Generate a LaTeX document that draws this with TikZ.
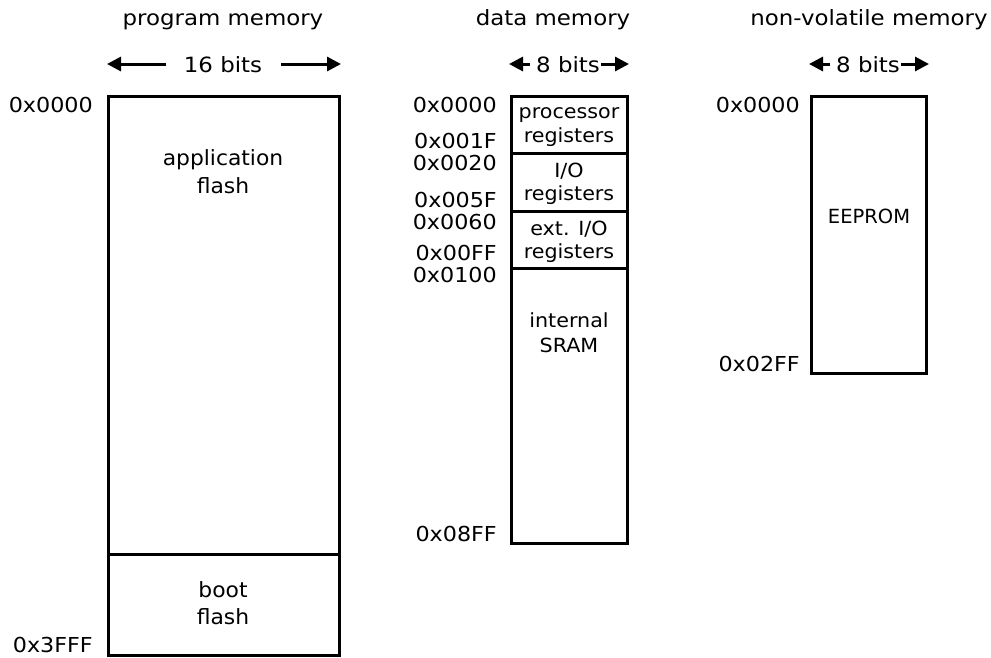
\documentclass[tikz,border=0pt]{standalone}
\usepackage{fontspec}
\setmainfont{DejaVu Sans}
\usetikzlibrary{arrows.meta}
\begin{document}
\begin{tikzpicture}[x=1pt,y=-1pt,
  ttl/.style={anchor=base, inner sep=0pt, xscale=1.09, font=\fontsize{21}{25}\selectfont},
  lbl/.style={anchor=base, inner sep=0pt, xscale=1.04, font=\fontsize{21}{25}\selectfont},
  addr/.style={anchor=base east, inner sep=0pt, xscale=1.08, font=\fontsize{20.6}{25}\selectfont},
  inl/.style={anchor=base, inner sep=0pt, xscale=1.06, font=\fontsize{19.5}{24}\selectfont},
  eepl/.style={anchor=base, inner sep=0pt, font=\fontsize{19.5}{24}\selectfont},
  mem/.style={line width=3pt},
  wid/.style={line width=3pt, -{Triangle[length=14pt,width=14pt]}}]
\useasboundingbox (0,0) rectangle (991,657);

% ---------- program memory ----------
\node[ttl] (ptitle) at (223,25) {program memory};
\node[ttl] (pbits) at (223,72) {16 bits};
\coordinate (pl1) at (166,64); \coordinate (pl2) at (107,64);
\coordinate (pr1) at (281,64); \coordinate (pr2) at (341,64);
\draw[wid] (pl1) -- (pl2);
\draw[wid] (pr1) -- (pr2);
\draw[mem] (108,96) rectangle (339,655);
\draw[mem] (108,554) -- (339,554);
\node[addr] (pa0) at (93,112) {0x0000};
\node[addr] (pa1) at (93,652) {0x3FFF};
\node[lbl] (app1) at (223,165) {application};
\node[lbl] (app2) at (223,193) {flash};
\node[lbl] (boot1) at (223,597) {boot};
\node[lbl] (boot2) at (223,624) {flash};

% ---------- data memory ----------
\node[ttl] (dtitle) at (553,25) {data memory};
\node[ttl] (dbits) at (568,72) {8 bits};
\coordinate (dl1) at (530,64); \coordinate (dl2) at (509,64);
\coordinate (dr1) at (601,64); \coordinate (dr2) at (629,64);
\draw[wid] (dl1) -- (dl2);
\draw[wid] (dr1) -- (dr2);
\draw[mem] (511,96) rectangle (627,543);
\draw[mem] (511,153) -- (627,153);
\draw[mem] (511,211) -- (627,211);
\draw[mem] (511,268) -- (627,268);
\node[addr] (da0) at (497,112) {0x0000};
\node[addr] (da1) at (497,148) {0x001F};
\node[addr] (da2) at (497,170) {0x0020};
\node[addr] (da3) at (497,207) {0x005F};
\node[addr] (da4) at (497,229) {0x0060};
\node[addr] (da5) at (497,260) {0x00FF};
\node[addr] (da6) at (497,282) {0x0100};
\node[addr] (da7) at (497,541) {0x08FF};
\node[inl] (pr1t) at (569,118) {processor};
\node[inl] (pr2t) at (569,142) {registers};
\node[inl] (io1t) at (569,177) {I/O};
\node[inl] (io2t) at (569,200) {registers};
\node[inl] (ex1t) at (569,235) {ext. I/O};
\node[inl] (ex2t) at (569,258) {registers};
\node[inl] (sr1t) at (569,327) {internal};
\node[inl] (sr2t) at (569,352) {SRAM};

% ---------- non-volatile memory ----------
\node[ttl] (ntitle) at (869,25) {non-volatile memory};
\node[ttl] (nbits) at (868,72) {8 bits};
\coordinate (nl1) at (830,64); \coordinate (nl2) at (809,64);
\coordinate (nr1) at (901,64); \coordinate (nr2) at (929,64);
\draw[wid] (nl1) -- (nl2);
\draw[wid] (nr1) -- (nr2);
\draw[mem] (811,96) rectangle (926,373);
\node[addr] (na0) at (800,112) {0x0000};
\node[addr] (na1) at (800,371) {0x02FF};
\node[eepl] (eep) at (869,223) {EEPROM};
\end{tikzpicture}
\end{document}
